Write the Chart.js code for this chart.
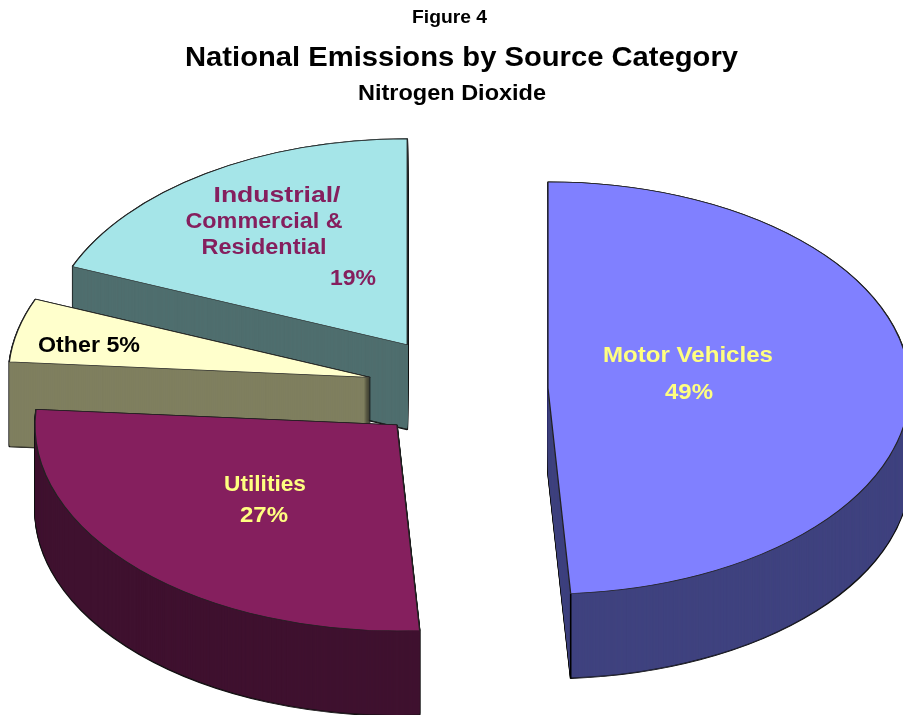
<!DOCTYPE html>
<html>
<head>
<meta charset="utf-8">
<title>National Emissions by Source Category</title>
<script src="https://cdn.jsdelivr.net/npm/chart.js@4"></script>
<style>
  html, body { margin: 0; padding: 0; background: #fff; overflow: hidden; }
  canvas { display: block; }
</style>
</head>
<body>
<canvas id="chartContainer" width="903" height="715"></canvas>
<script>
// values (slice angles, the printed labels are rounded)
const categories = ['Motor Vehicles', 'Utilities', 'Other', 'Industrial/Commercial & Residential'];
const shares = [49, 27.2, 5, 18.8];
const topColors = ['#8080ff', '#851f5e', '#ffffcc', '#a5e5e8'];
const wallColors = ['#3f427f', '#3f112f', '#7f7f5f', '#4f6e6e'];
const explode = [88, 88.6, 92.2, 94.7];

// text, centre x, centre y, font size, width on the page, colour
const texts = [
  ['Figure 4', 449.5, 18, 18, 75, '#000'],
  ['National Emissions by Source Category', 461.5, 58, 28, 553, '#000'],
  ['Nitrogen Dioxide', 452, 94, 22, 188, '#000'],
  ['Motor Vehicles', 688, 356, 22, 170, '#ffff80'],
  ['49%', 689, 393, 22, 48, '#ffff80'],
  ['Utilities', 265, 485, 22, 82, '#ffff80'],
  ['27%', 264, 516, 22, 48, '#ffff80'],
  ['Other 5%', 89, 346, 22, 102, '#000'],
  ['Industrial/', 277, 196, 22, 127, '#851f5e'],
  ['Commercial &', 264, 222, 22, 157, '#851f5e'],
  ['Residential', 264, 248, 22, 125, '#851f5e'],
  ['19%', 353, 279, 22, 46, '#851f5e']
];

// the 3D look: ellipse squash, wall height, where the pie centre sits on the page
const pieX = 460;
const pieY = 389.5;
const squash = 0.569;
const depth = 85;
const drawOrder = [3, 2, 1, 0];

function drawArc(ctx, arc, fill, stroke, width) {
  const saved = arc.options;
  const o = Object.create(saved);
  o.backgroundColor = fill;
  o.borderColor = stroke;
  o.borderWidth = width;
  arc.options = o;
  arc.draw(ctx);
  arc.options = saved;
}

// move one slice out along its middle angle, then flatten it
function place(ctx, arc, i, drop) {
  const mid = (arc.startAngle + arc.endAngle) / 2;
  ctx.translate(pieX, pieY + drop);
  ctx.scale(1, squash);
  ctx.translate(Math.cos(mid) * explode[i] - arc.x, Math.sin(mid) * explode[i] - arc.y);
}

const pie3d = {
  id: 'pie3d',
  beforeDatasetDraw(chart, args) {
    const ctx = chart.ctx;
    drawOrder.forEach(i => {
      const arc = args.meta.data[i];
      // dark outline of the extruded side first, then fill it in
      for (let d = depth; d >= 0; d--) {
        ctx.save();
        place(ctx, arc, i, d);
        drawArc(ctx, arc, wallColors[i], '#111', 1.6);
        ctx.restore();
      }
      for (let d = depth - 1; d >= 0; d--) {
        ctx.save();
        place(ctx, arc, i, d);
        drawArc(ctx, arc, wallColors[i], wallColors[i], 0);
        ctx.restore();
      }
      // seam on the big slice where the curved side meets the cut face
      if (i === 0) {
        ctx.save();
        place(ctx, arc, i, 0);
        const sx = arc.x + Math.cos(arc.endAngle) * arc.outerRadius;
        const sy = arc.y + Math.sin(arc.endAngle) * arc.outerRadius;
        ctx.strokeStyle = '#000';
        ctx.lineWidth = 1.6;
        ctx.beginPath();
        ctx.moveTo(sx, sy);
        ctx.lineTo(sx, sy + depth / squash);
        ctx.stroke();
        ctx.restore();
      }
      ctx.save();
      place(ctx, arc, i, 0);
      drawArc(ctx, arc, topColors[i], '#222', 1.3);
      ctx.restore();
    });
    return false;
  },
  afterDraw(chart) {
    const ctx = chart.ctx;
    ctx.textBaseline = 'middle';
    ctx.textAlign = 'center';
    texts.forEach(([str, cx, cy, size, width, color]) => {
      ctx.save();
      ctx.font = 'bold ' + size + 'px "Liberation Sans", Arial, sans-serif';
      ctx.fillStyle = color;
      // the picture's lettering runs wider than this font, so stretch it
      ctx.translate(cx, cy);
      ctx.scale(width / ctx.measureText(str).width, 1);
      ctx.fillText(str, 0, 0);
      ctx.restore();
    });
  }
};

new Chart(document.getElementById('chartContainer').getContext('2d'), {
  type: 'pie',
  data: {
    labels: categories,
    datasets: [{
      data: shares,
      backgroundColor: topColors,
      radius: 362
    }]
  },
  options: {
    responsive: false,
    animation: false,
    events: [],
    rotation: 0,
    plugins: {
      legend: { display: false },
      tooltip: { enabled: false }
    }
  },
  plugins: [pie3d]
});
</script>
</body>
</html>
